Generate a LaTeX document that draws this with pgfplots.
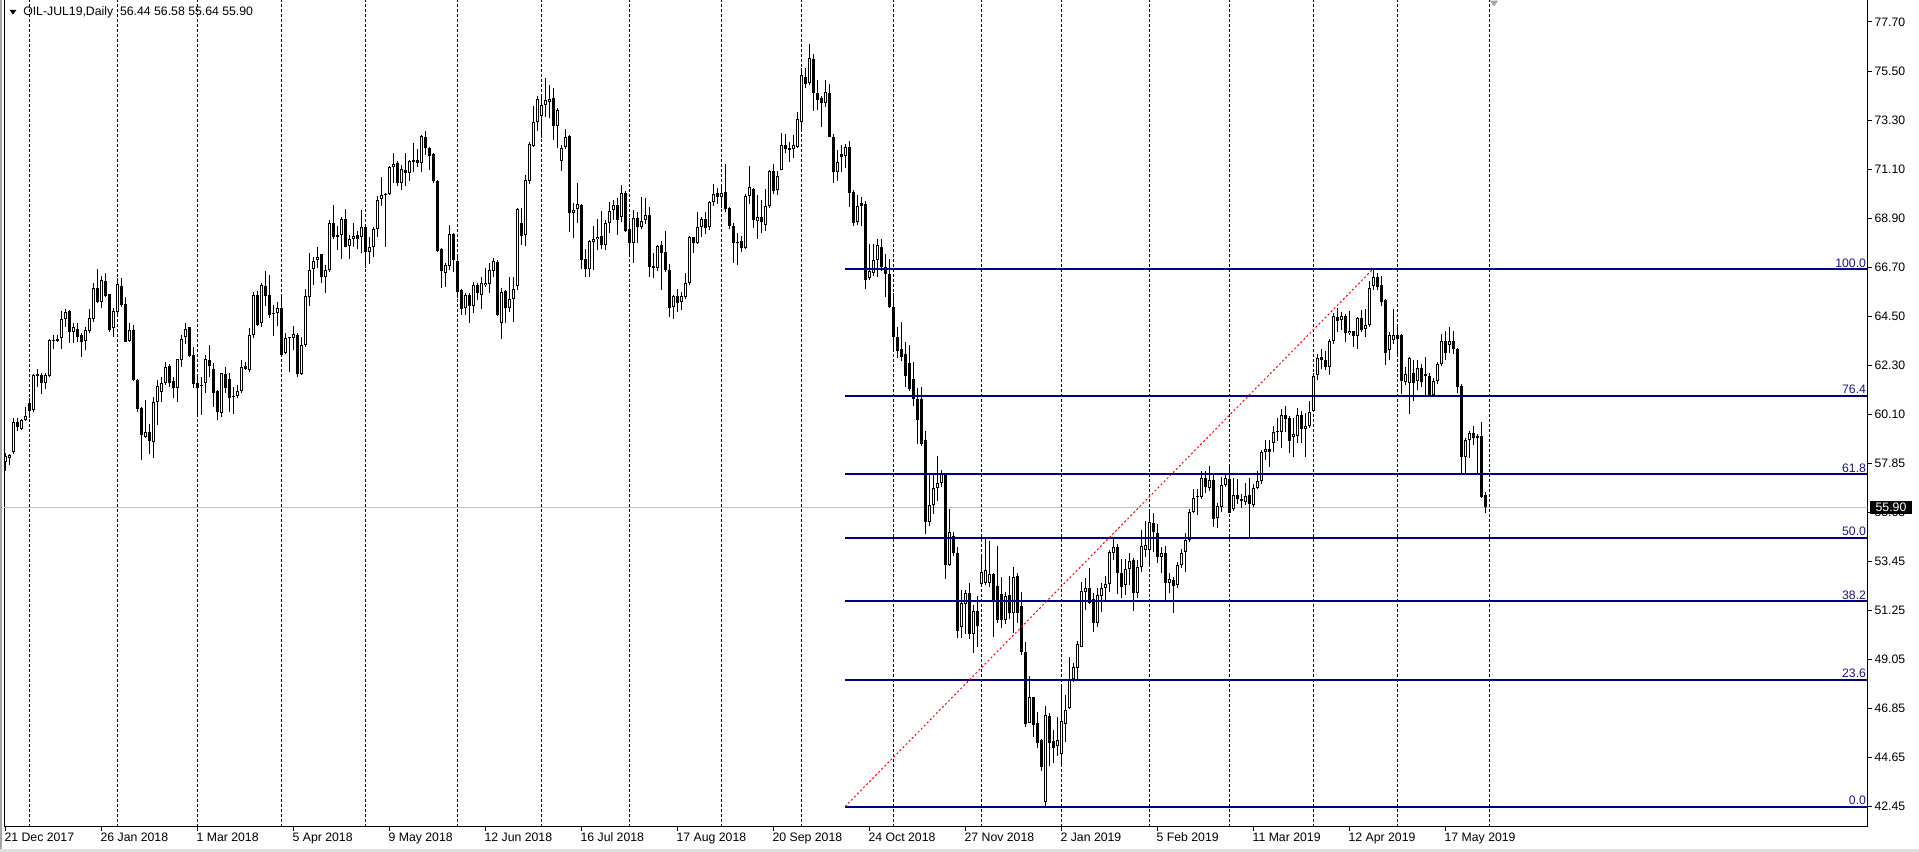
\documentclass[border=0pt]{standalone}
\usepackage{fontspec}
\setmainfont{Liberation Sans}
\usepackage{pgfplots}
\usepackage{pgfplotstable}
\pgfplotsset{compat=1.18}
\definecolor{fibline}{RGB}{0,0,128}
\definecolor{fibtext}{RGB}{30,20,140}
\definecolor{bidgray}{RGB}{192,192,192}
\newcommand\mtfont{\fontsize{9.2}{11}\selectfont}
\pgfplotstableread{
i o h l c
0 57.95 58.34 57.53 58.19
1 58.13 58.31 57.79 58.24
2 58.39 59.93 58.31 59.71
3 59.72 59.89 59.33 59.51
4 59.42 59.86 59.36 59.81
5 59.84 60.41 59.78 60.02
6 60.56 60.79 59.89 60.23
7 60.26 61.88 60.19 61.83
8 61.88 62.13 61.31 61.80
9 61.83 61.91 60.98 61.46
10 61.49 61.91 61.23 61.83
11 61.80 63.44 61.73 63.39
12 63.38 63.63 62.99 63.40
13 63.45 63.63 63.33 63.38
14 63.48 64.73 63.03 64.34
15 64.34 64.79 64.01 64.68
16 64.71 64.76 63.29 63.78
17 63.78 64.16 63.26 63.98
18 63.89 64.16 63.33 63.56
19 63.62 63.71 62.66 63.33
20 63.38 64.01 62.96 63.86
21 63.81 64.79 63.71 64.38
22 64.34 65.98 64.23 65.77
23 65.77 66.58 65.06 65.13
24 65.13 66.28 64.83 66.13
25 66.06 66.40 65.35 65.40
26 65.47 65.50 63.78 63.86
27 63.93 64.83 63.56 64.71
28 64.65 66.18 64.46 65.91
29 65.86 66.22 64.91 64.97
30 65.01 65.35 63.33 63.33
31 63.36 64.16 63.33 63.86
32 63.86 64.08 61.58 61.61
33 61.61 61.64 60.19 60.31
34 60.35 60.38 58.01 59.14
35 59.06 60.71 59.03 59.30
36 59.27 59.66 58.31 58.88
37 58.84 60.86 58.13 60.64
38 60.64 61.61 59.59 61.34
39 61.09 61.76 60.64 61.46
40 61.46 62.43 61.38 62.18
41 62.25 62.33 61.31 61.46
42 61.58 61.76 60.79 61.24
43 61.24 62.58 60.64 62.54
44 62.51 63.63 62.21 63.44
45 63.53 64.16 63.23 63.90
46 63.98 64.01 62.66 62.69
47 62.73 63.11 61.24 61.43
48 61.46 61.83 60.11 61.24
49 61.36 61.76 60.04 61.34
50 61.46 62.73 61.01 62.54
51 62.51 63.18 61.76 62.25
52 62.09 62.36 60.41 61.04
53 61.13 61.16 59.81 60.17
54 60.14 61.94 59.96 61.91
55 61.88 62.21 61.01 61.24
56 61.68 61.91 60.19 60.79
57 60.91 61.31 60.11 60.83
58 60.91 61.38 60.79 61.13
59 61.13 62.51 61.01 62.18
60 62.24 62.43 62.06 62.13
61 62.06 63.93 61.98 63.63
62 63.64 65.59 63.49 65.44
63 65.44 65.61 64.04 64.09
64 64.19 65.96 64.01 65.89
65 65.84 66.49 64.94 65.39
66 65.44 66.34 64.39 64.54
67 64.62 64.99 63.59 64.60
68 64.61 65.14 64.04 64.84
69 64.84 65.39 62.70 62.74
70 62.82 63.74 62.79 63.49
71 63.50 63.56 61.99 63.53
72 63.52 64.04 62.96 63.67
73 63.64 63.71 61.74 61.89
74 61.89 63.56 61.84 63.19
75 63.19 65.69 63.11 65.39
76 65.33 67.31 64.94 66.56
77 66.59 67.16 65.89 66.96
78 67.01 67.61 66.63 67.13
79 67.28 67.28 65.96 66.23
80 66.26 66.78 65.51 66.56
81 66.56 68.80 66.48 68.65
82 68.65 69.48 67.94 68.06
83 68.13 68.54 67.46 68.03
84 68.13 68.96 67.04 68.84
85 68.84 69.29 67.58 67.61
86 67.65 68.13 67.04 67.94
87 67.94 68.68 67.61 68.09
88 68.13 68.33 67.49 67.94
89 68.03 69.26 67.31 68.48
90 68.48 68.51 66.63 67.38
91 67.38 68.03 66.83 67.61
92 67.58 68.51 67.13 68.39
93 68.39 69.89 68.03 69.71
94 69.75 70.72 69.44 69.93
95 69.94 70.01 67.58 69.96
96 69.98 71.23 69.93 71.17
97 71.17 71.83 70.45 71.32
98 71.35 71.47 70.33 70.45
99 70.45 71.28 70.15 71.08
100 71.05 71.80 70.33 70.90
101 70.90 71.50 70.57 71.46
102 71.50 72.25 70.98 71.43
103 71.50 71.98 71.20 71.35
104 71.38 72.63 70.98 72.58
105 72.52 72.78 71.73 72.03
106 72.03 72.10 71.05 71.68
107 71.77 71.83 70.45 70.57
108 70.56 70.60 67.38 67.43
109 67.49 67.53 65.74 66.49
110 66.41 66.86 65.81 66.78
111 66.74 68.58 66.56 68.16
112 68.18 68.24 66.48 67.01
113 66.96 67.23 65.29 65.59
114 65.66 65.69 64.54 64.79
115 64.84 65.51 64.54 65.44
116 65.44 65.54 64.19 64.94
117 64.94 66.04 64.61 65.89
118 65.89 65.99 65.21 65.54
119 65.44 66.26 64.79 65.96
120 65.89 66.63 65.81 65.99
121 65.93 66.86 65.51 66.56
122 66.53 67.08 66.26 66.96
123 66.90 67.00 64.49 64.53
124 64.16 65.73 63.44 65.58
125 65.63 65.66 64.16 64.83
126 64.83 66.25 64.68 65.24
127 65.24 66.25 64.23 65.69
128 65.84 69.33 65.66 69.28
129 68.68 69.33 67.68 68.08
130 68.13 70.82 67.63 70.60
131 70.57 72.32 70.42 72.20
132 72.14 73.92 72.10 73.19
133 73.22 74.37 72.82 74.22
134 73.49 74.34 72.47 73.96
135 73.97 75.17 73.42 74.19
136 74.12 74.87 73.37 74.24
137 74.27 74.72 72.40 73.04
138 73.04 73.82 72.02 73.75
139 71.47 72.17 71.02 72.05
140 72.07 72.88 71.98 72.52
141 72.58 72.62 68.28 69.10
142 69.10 69.55 67.98 69.25
143 69.28 70.48 68.65 69.52
144 69.48 69.52 66.58 67.00
145 67.03 67.48 66.25 66.58
146 66.58 67.90 66.23 67.86
147 67.83 68.53 66.55 67.93
148 67.93 68.83 67.45 68.05
149 68.08 69.21 67.48 67.68
150 67.68 68.80 67.45 68.65
151 68.65 69.63 68.20 69.21
152 69.25 69.70 68.80 69.48
153 69.48 69.78 68.13 68.80
154 68.92 70.37 68.73 70.00
155 70.00 70.10 68.28 68.32
156 68.38 68.88 67.15 67.75
157 67.75 69.25 66.85 68.88
158 68.88 69.18 67.78 68.47
159 68.50 69.82 68.38 68.77
160 68.80 69.81 68.62 69.02
161 69.03 69.40 66.23 66.68
162 66.73 67.33 66.18 66.63
163 66.63 67.68 66.52 67.63
164 67.68 67.87 65.66 67.33
165 67.38 68.31 66.48 66.55
166 66.55 66.81 64.43 64.83
167 64.88 65.43 64.34 65.39
168 65.39 65.69 64.68 65.06
169 65.13 65.58 64.76 65.39
170 65.36 66.40 65.24 65.96
171 65.99 68.08 65.88 68.02
172 68.02 68.05 67.33 67.75
173 67.78 69.18 67.72 68.50
174 68.47 68.95 68.05 68.83
175 68.83 69.18 68.17 68.43
176 68.47 69.67 68.35 69.60
177 69.62 70.42 69.43 69.95
178 70.00 70.25 69.52 69.82
179 69.82 70.30 69.33 70.00
180 70.05 71.32 69.18 69.28
181 69.33 69.40 68.38 68.53
182 68.55 68.65 66.88 67.78
183 67.83 68.20 66.78 67.75
184 67.84 68.07 67.36 67.54
185 67.54 69.96 67.52 69.88
186 69.88 71.21 69.51 70.29
187 70.19 70.25 68.44 68.80
188 68.77 69.92 67.97 68.93
189 68.93 69.70 68.21 68.72
190 68.58 70.19 68.29 69.45
191 69.45 71.07 69.36 70.99
192 70.99 71.31 69.96 70.10
193 70.14 70.99 69.92 70.80
194 71.07 72.69 71.03 72.17
195 72.17 72.65 71.80 71.99
196 72.05 72.33 71.43 71.95
197 71.99 72.60 71.58 72.17
198 72.10 73.65 72.04 73.34
199 73.21 75.61 72.84 75.32
200 75.25 75.65 74.73 74.92
201 74.96 76.73 74.88 76.06
202 76.02 76.24 73.71 74.51
203 74.51 75.10 73.76 74.21
204 74.27 74.36 72.97 74.08
205 74.08 75.10 73.90 74.55
206 74.51 74.92 72.51 72.55
207 72.55 72.66 70.47 70.94
208 70.94 71.96 70.56 71.43
209 71.77 72.17 70.94 71.62
210 71.68 72.23 71.12 72.10
211 72.10 72.36 69.40 70.01
212 70.07 70.14 68.53 68.66
213 68.72 69.92 68.58 69.45
214 69.58 69.82 68.53 69.45
215 69.54 69.64 65.72 66.10
216 66.20 67.73 66.10 66.49
217 66.43 67.73 66.30 66.99
218 66.99 67.97 66.24 67.70
219 67.60 67.97 66.49 66.68
220 66.68 67.29 65.34 66.39
221 66.39 67.05 64.83 64.90
222 64.90 65.53 62.96 63.53
223 63.53 64.01 62.61 62.92
224 62.99 64.20 62.48 62.67
225 62.77 63.34 61.28 61.81
226 62.38 63.19 61.14 61.20
227 61.66 62.42 60.44 60.76
228 60.76 61.24 58.72 59.81
229 60.76 61.28 58.66 58.76
230 58.91 59.33 54.71 55.23
231 55.23 57.42 55.04 55.99
232 55.99 57.42 55.61 56.76
233 56.76 58.19 56.18 57.00
234 57.00 57.57 56.81 57.38
235 57.38 57.42 52.69 53.32
236 53.32 55.80 53.26 54.79
237 54.60 54.79 53.70 53.84
238 53.84 54.09 50.02 50.33
239 50.52 52.18 50.02 51.61
240 51.53 52.18 50.21 52.04
241 52.04 52.50 49.98 50.21
242 50.21 51.51 49.37 51.22
243 51.22 51.89 49.60 50.56
244 52.43 53.80 52.37 53.00
245 52.51 54.50 52.41 53.08
246 52.51 54.40 52.33 52.90
247 52.90 52.96 50.05 51.73
248 52.36 54.16 50.71 50.83
249 52.00 52.78 50.46 50.83
250 50.83 52.11 50.65 51.91
251 51.96 52.81 50.86 51.13
252 51.13 53.20 50.26 52.78
253 52.81 52.93 50.71 51.13
254 51.46 52.11 49.26 49.41
255 49.38 49.86 46.04 46.16
256 46.22 48.32 46.22 47.39
257 47.39 47.39 45.59 46.11
258 46.19 46.71 45.07 45.32
259 45.44 45.47 44.06 44.24
260 42.67 46.97 42.45 46.56
261 46.52 46.67 44.27 45.32
262 45.41 45.89 44.39 45.07
263 45.17 46.49 44.72 45.44
264 44.81 47.87 44.27 46.29
265 46.16 47.46 45.37 46.79
266 46.86 49.19 46.82 48.14
267 48.17 48.89 48.06 48.74
268 48.66 49.90 48.17 49.76
269 49.63 52.56 49.61 52.14
270 52.11 52.71 51.28 52.26
271 52.26 53.16 51.55 51.61
272 51.76 52.03 50.31 50.71
273 50.71 52.26 50.53 51.96
274 51.91 52.51 51.21 52.26
275 52.26 52.81 51.66 52.44
276 52.44 53.98 52.11 53.90
277 53.86 54.50 53.53 54.10
278 54.10 54.25 52.00 52.93
279 52.93 53.56 51.81 52.30
280 52.41 53.56 51.96 53.11
281 53.11 53.86 52.41 53.50
282 53.53 53.60 51.25 52.03
283 52.06 53.53 51.81 53.20
284 53.20 54.88 53.01 54.16
285 53.98 55.30 53.68 54.20
286 53.98 55.70 53.31 55.25
287 55.21 55.63 53.90 54.80
288 54.76 55.15 53.41 53.65
289 53.68 54.13 52.93 53.83
290 53.86 54.16 51.73 52.51
291 52.51 52.96 52.03 52.66
292 52.63 52.75 51.16 52.36
293 52.41 53.45 52.26 53.30
294 53.30 54.01 53.16 53.86
295 53.90 54.73 53.01 54.43
296 54.43 55.81 54.35 55.70
297 55.70 56.71 55.63 56.30
298 56.41 56.71 55.55 56.35
299 56.35 57.54 56.26 57.20
300 57.20 57.54 56.56 56.80
301 56.75 57.75 56.65 57.13
302 57.13 57.35 55.03 55.36
303 55.40 56.08 54.95 55.96
304 55.90 57.27 55.70 56.90
305 56.90 57.35 56.80 57.20
306 57.16 57.80 55.63 55.66
307 55.80 57.19 55.75 56.43
308 56.43 57.16 56.06 56.25
309 56.28 56.51 55.86 56.16
310 56.13 57.01 56.01 56.40
311 56.46 57.19 54.50 56.06
312 56.01 56.96 55.90 56.77
313 56.77 57.52 56.70 57.07
314 57.07 58.47 56.96 58.37
315 58.37 58.92 58.02 58.52
316 58.52 58.92 57.72 58.40
317 58.77 59.53 58.37 59.27
318 59.27 59.91 58.88 59.33
319 59.30 60.33 58.58 60.03
320 60.03 60.44 59.27 59.88
321 59.91 59.98 58.32 58.88
322 59.07 59.91 58.17 59.17
323 59.12 60.36 58.77 60.06
324 60.03 60.21 58.77 59.42
325 59.42 60.13 58.17 59.53
326 59.53 60.66 59.45 60.18
327 60.24 61.94 60.18 61.79
328 61.84 62.80 61.60 62.59
329 62.65 63.00 62.10 62.50
330 62.50 62.93 62.05 62.20
331 62.20 63.45 61.84 63.35
332 63.35 64.62 63.23 64.51
333 64.44 64.86 63.76 64.26
334 64.29 64.66 63.86 64.51
335 64.51 64.56 63.30 63.71
336 63.71 64.71 63.65 63.83
337 63.80 63.83 63.08 63.61
338 63.61 64.44 63.00 64.41
339 64.41 64.77 63.76 63.86
340 63.91 64.81 63.56 64.10
341 64.10 66.07 64.01 65.76
342 65.83 66.62 65.67 66.25
343 66.25 66.40 65.64 65.80
344 65.87 66.28 64.92 65.12
345 65.22 65.27 62.29 62.81
346 62.96 63.76 62.50 63.65
347 63.41 64.81 63.23 63.65
348 63.65 63.98 62.70 63.44
349 63.65 63.68 61.00 61.57
350 61.54 62.20 61.39 61.90
351 61.49 62.65 60.09 62.59
352 61.94 62.50 60.66 61.49
353 61.57 62.50 61.15 62.14
354 62.17 62.35 61.30 61.54
355 61.87 62.65 60.96 61.79
356 61.79 61.94 60.84 60.96
357 60.96 61.72 60.84 61.57
358 61.57 62.44 61.42 62.35
359 62.35 63.68 62.25 63.35
360 63.38 63.83 62.50 62.85
361 63.20 64.01 62.85 63.35
362 63.35 63.83 62.80 63.00
363 63.00 63.05 61.04 61.30
364 61.34 61.42 57.34 58.17
365 58.17 59.03 57.37 58.92
366 58.92 59.33 58.12 59.23
367 59.23 59.53 58.70 59.03
368 59.12 59.18 57.34 59.03
369 59.12 59.72 56.31 56.36
370 56.44 56.58 55.64 55.90
}\ohlc
\begin{document}
\begin{tikzpicture}[x=1pt,y=1pt]
\path[use as bounding box] (0,0) rectangle (1439.25,639);
\fill[black!35] (0,0) rectangle (1.5,639);
\fill[black!12] (0,0) rectangle (1439.25,2.25);
\begin{axis}[
  at={(3pt,18.75pt)}, anchor=south west,
  scale only axis, width=1397.7pt, height=621pt,
  xmin=-0.25, xmax=465.65, ymin=41.533, ymax=78.733,
  clip mode=individual,
  axis line style={black, line width=0.75pt},
  tick align=outside, major tick length=3pt,
  tick style={black, line width=0.75pt},
  xtick pos=bottom, ytick pos=right, yticklabel pos=right,
  xtick={0,24,...,360},
  xticklabels={21 Dec 2017,26 Jan 2018,1 Mar 2018,5 Apr 2018,9 May 2018,12 Jun 2018,16 Jul 2018,17 Aug 2018,20 Sep 2018,24 Oct 2018,27 Nov 2018,2 Jan 2019,5 Feb 2019,11 Mar 2019,12 Apr 2019,17 May 2019},
  xticklabel style={anchor=north west, inner sep=0pt, font=\mtfont, xshift=-0.5pt, yshift=-1pt},
  ytick={42.45,44.653,46.856,49.059,51.263,53.466,55.669,57.872,60.075,62.278,64.481,66.684,68.888,71.091,73.294,75.497,77.70},
  yticklabels={42.45,44.65,46.85,49.05,51.25,53.45,55.65,57.85,60.10,62.30,64.50,66.70,68.90,71.10,73.30,75.50,77.70},
  yticklabel style={anchor=west, inner sep=0pt, font=\mtfont, xshift=2pt},
  extra x ticks={6,28,48,69,90,113,134,156,179,199,222,244,264,286,306,327,348,371},
  extra x tick labels={},
  extra x tick style={grid=major, major tick length=0pt,
    major grid style={black, line width=0.75pt, dash pattern=on 2.25pt off 1.5pt}},
]
% bid line
\addplot[bidgray, line width=0.75pt, forget plot] coordinates {(-5,55.90) (470,55.90)};
% wicks
\addplot[draw=none, mark=none, forget plot,
  error bars/.cd, y dir=plus, y explicit, error mark=none,
  error bar style={draw=black, line width=0.75pt}]
  table[x=i, y=l, y error expr=\thisrow{h}-\thisrow{l}] {\ohlc};
% bodies
\addplot[draw=none, mark=none, forget plot,
  error bars/.cd, y dir=plus, y explicit, error mark=none,
  error bar style={draw=black, line width=2.25pt}]
  table[x=i, y expr={min(\thisrow{o},\thisrow{c})}, y error expr={max(abs(\thisrow{c}-\thisrow{o}),0.045)}] {\ohlc};
% hollow interior of rising candles
\addplot[draw=none, mark=none, forget plot,
  error bars/.cd, y dir=plus, y explicit, error mark=none,
  error bar style={draw=white, line width=0.75pt}]
  table[x=i, y expr={\thisrow{o}+0.045}, y error expr={max(\thisrow{c}-\thisrow{o}-0.09,0)}] {\ohlc};
% Fibonacci levels (0 = 42.45, 100 = 66.60)
\addplot[fibline, line width=1.5pt] coordinates {(210,42.45) (470,42.45)};
\addplot[fibline, line width=1.5pt] coordinates {(210,48.149) (470,48.149)};
\addplot[fibline, line width=1.5pt] coordinates {(210,51.675) (470,51.675)};
\addplot[fibline, line width=1.5pt] coordinates {(210,54.525) (470,54.525)};
\addplot[fibline, line width=1.5pt] coordinates {(210,57.375) (470,57.375)};
\addplot[fibline, line width=1.5pt] coordinates {(210,60.901) (470,60.901)};
\addplot[fibline, line width=1.5pt] coordinates {(210,66.60) (470,66.60)};
\addplot[red, line width=0.75pt, dash pattern=on 1.5pt off 1.75pt] coordinates {(210,42.45) (342,66.60)};
\node[anchor=south east, inner sep=0pt, text=fibtext, font=\mtfont, yshift=1.2pt, xshift=-1pt] at (axis cs:465.65,42.45) {0.0};
\node[anchor=south east, inner sep=0pt, text=fibtext, font=\mtfont, yshift=1.2pt, xshift=-1pt] at (axis cs:465.65,48.149) {23.6};
\node[anchor=south east, inner sep=0pt, text=fibtext, font=\mtfont, yshift=1.2pt, xshift=-1pt] at (axis cs:465.65,51.675) {38.2};
\node[anchor=south east, inner sep=0pt, text=fibtext, font=\mtfont, yshift=1.2pt, xshift=-1pt] at (axis cs:465.65,54.525) {50.0};
\node[anchor=south east, inner sep=0pt, text=fibtext, font=\mtfont, yshift=1.2pt, xshift=-1pt] at (axis cs:465.65,57.375) {61.8};
\node[anchor=south east, inner sep=0pt, text=fibtext, font=\mtfont, yshift=1.2pt, xshift=-1pt] at (axis cs:465.65,60.901) {76.4};
\node[anchor=south east, inner sep=0pt, text=fibtext, font=\mtfont, yshift=1.2pt, xshift=-1pt] at (axis cs:465.65,66.60) {100.0};
% current price box
\node[anchor=west, fill=black, text=white, font=\mtfont, inner xsep=4pt, inner ysep=0pt, minimum height=9.75pt, xshift=1.8pt] at (axis cs:465.65,55.90) {55.90};
\end{axis}
% header
\fill[black] (7.2,631.5) -- (12.2,631.5) -- (9.7,628) -- cycle;
\node[anchor=west, inner sep=0pt, font=\mtfont] at (17.25,629.8) {OIL-JUL19,Daily\ \ 56.44 56.58 55.64 55.90};
\fill[black!35] (1117.5,638.5) -- (1123.5,638.5) -- (1120.5,634) -- cycle;
\end{tikzpicture}
\end{document}
